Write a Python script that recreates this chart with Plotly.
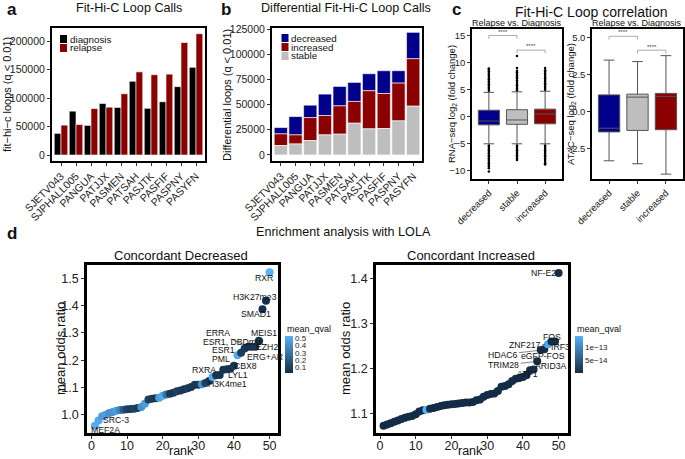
import plotly.graph_objects as go

W, H = 685, 459
FONT = "Liberation Sans, Arial, sans-serif"


def fx(x):
    return x / W


def fy(y):
    return 1 - y / H

# ---------------- data ----------------
samples = ["SJETV043", "SJPHALL005", "PANGUA", "PATJJX", "PASMEN",
           "PATSAH", "PASJTK", "PASFIF", "PASPNY", "PASYFN"]
diagnosis = [38000, 77000, 52000, 90500, 83500, 129500, 82000, 93500, 120000, 154000]
relapse = [52500, 53500, 81500, 84000, 107500, 146000, 141000, 142000, 197500, 213000]

stable = [9300, 10900, 14300, 19900, 20600, 31500, 25900, 26200, 33800, 48400]
increased = [11600, 9000, 22800, 19200, 28100, 21600, 37800, 34800, 37500, 47100]
decreased = [6300, 18200, 12300, 21300, 19300, 18900, 16900, 22600, 12300, 26200]

groups = ["decreased", "stable", "increased"]
group_colors = ["#00008B", "#BEBEBE", "#8B0000"]
# RNA-seq box stats
rna_q1 = [-1.5, -1.4, -1.3]
rna_med = [-0.8, -0.6, 0.5]
rna_q3 = [1.2, 1.3, 1.4]
rna_lo = [-5.0, -5.0, -5.0]
rna_hi = [4.5, 4.6, 4.7]
rna_out = [
    [4.8, 5.1, 5.4, 5.7, 6.0, 6.3, 6.6, 6.9, 7.2, 7.5, 7.8, 8.1, 8.4, 8.7, 8.9,
     -5.3, -5.6, -5.9, -6.2, -6.5, -6.8, -7.1, -7.4, -7.7, -8.0, -8.3, -8.6, -8.9, -9.2, -9.5, -10.1],
    [4.9, 5.2, 5.5, 5.8, 6.1, 6.4, 6.7, 7.0, 7.3, 7.6, 7.9, 8.2, 8.5, 9.0, 11.2,
     -5.3, -5.6, -5.9, -6.2, -6.5, -6.8, -7.1, -7.4, -7.7, -8.0],
    [5.0, 5.3, 5.6, 5.9, 6.2, 6.5, 6.8, 7.1, 7.4, 7.7, 8.0, 8.3, 8.6, 9.0,
     -5.3, -5.6, -5.9, -6.2, -6.5, -6.8, -7.1, -7.4, -7.7, -8.0, -8.3, -8.6, -8.8],
]
# ATAC-seq box stats
atac_q1 = [-1.35, -1.25, -1.2]
atac_med = [-1.1, 1.0, 1.05]
atac_q3 = [1.15, 1.2, 1.25]
atac_lo = [-3.3, -3.5, -4.2]
atac_hi = [3.5, 3.4, 3.8]

rank = list(range(1, 51))
dec_odds = [0.960, 0.979, 0.994, 1.000, 1.006, 1.010, 1.015, 1.017, 1.018, 1.020,
            1.021, 1.022, 1.025, 1.028, 1.040, 1.056, 1.059, 1.060, 1.062, 1.070,
            1.074, 1.077, 1.081, 1.086, 1.089, 1.093, 1.097, 1.102, 1.110, 1.110,
            1.112, 1.116, 1.124, 1.138, 1.145, 1.146, 1.165, 1.167, 1.169, 1.180,
            1.218, 1.227, 1.243, 1.249, 1.249, 1.249, 1.271, 1.387, 1.418, 1.522]
dec_qval = [0.50, 0.50, 0.45, 0.45, 0.40, 0.42, 0.45, 0.35, 0.20, 0.10,
            0.08, 0.10, 0.08, 0.40, 0.45, 0.10, 0.08, 0.06, 0.45, 0.50,
            0.30, 0.08, 0.06, 0.10, 0.07, 0.06, 0.08, 0.06, 0.07, 0.06,
            0.40, 0.10, 0.06, 0.50, 0.06, 0.05, 0.05, 0.06, 0.05, 0.06,
            0.50, 0.08, 0.06, 0.05, 0.05, 0.06, 0.04, 0.04, 0.04, 0.53]
inc_odds = [1.072, 1.075, 1.078, 1.081, 1.084, 1.087, 1.090, 1.092, 1.094, 1.098,
            1.104, 1.107, 1.108, 1.110, 1.112, 1.114, 1.116, 1.118, 1.119, 1.120,
            1.121, 1.122, 1.123, 1.124, 1.124, 1.125, 1.129, 1.131, 1.137, 1.141,
            1.143, 1.144, 1.150, 1.159, 1.161, 1.165, 1.172, 1.177, 1.179, 1.181,
            1.185, 1.196, 1.198, 1.216, 1.241, 1.243, 1.254, 1.260, 1.260, 1.413]
inc_qval = [2e-15] * 12 + [1.4e-13] + [2e-15] * 33 + [1.3e-13] + [3e-15] * 3

dec_labels = [  # label, rank, text x, text y, leader line
    ("RXR", 50, 48.3, 1.500, False), ("H3K27me3", 49, 46.0, 1.433, False),
    ("SMAD1", 48, 46.2, 1.371, False), ("MEIS1", 47, 48.3, 1.300, False),
    ("EZH2", 46, 49.3, 1.249, False), ("ERRA", 44, 35.6, 1.300, True),
    ("ESR1, DBDmut", 45, 40.0, 1.268, False), ("ESR1", 41, 37.2, 1.237, True),
    ("ERG+AR", 45, 48.6, 1.212, True), ("PML", 40, 36.4, 1.203, True),
    ("CBX8", 40, 43.3, 1.178, False), ("RXRA", 35, 31.6, 1.163, False),
    ("LYL1", 38, 41.0, 1.145, True), ("H3K4me1", 36, 38.2, 1.112, False),
    ("SRC-3", 2, 6.8, 0.979, True), ("MEF2A", 1, 4.0, 0.945, False),
]
inc_labels = [
    ("NF-E2", 50, 45.8, 1.414, False), ("FOS", 48, 48.2, 1.271, False),
    ("ZNF217", 47, 40.5, 1.252, True), ("IRF3", 49, 50.5, 1.247, False),
    ("HDAC6", 45, 34.3, 1.231, True), ("eGFP-FOS", 46, 45.6, 1.228, False),
    ("TRIM28", 44, 34.6, 1.207, True), ("ARID3A", 43, 47.9, 1.205, False),
    ("ATF1", 42, 41.3, 1.187, False),
]
# significance brackets: (from, to, level, drop, text level)
rna_brackets = [(0, 1, 15.0, 0.6, 15.7), (1, 2, 12.3, 0.6, 13.0)]
atac_brackets = [(0, 1, 5.11, 0.22, 5.38), (1, 2, 4.17, 0.23, 4.41)]

# ---------------- figure ----------------
fig = go.Figure()
idx = list(range(len(samples)))

# panel a
fig.add_trace(go.Bar(x=idx, y=diagnosis, width=0.45, offset=-0.45, name="diagnosis",
                     marker=dict(color="black", line=dict(color="white", width=0.6)),
                     xaxis="x", yaxis="y", showlegend=False))
fig.add_trace(go.Bar(x=idx, y=relapse, width=0.45, offset=0.0, name="relapse",
                     marker=dict(color="#8B0000", line=dict(color="white", width=0.6)),
                     xaxis="x", yaxis="y", showlegend=False))

# panel b (stacked through base)
base_inc = [s for s in stable]
base_dec = [s + i for s, i in zip(stable, increased)]
fig.add_trace(go.Bar(x=idx, y=decreased, base=base_dec, width=0.9, name="decreased",
                     marker=dict(color="#00008B", line=dict(color="white", width=0.6)),
                     xaxis="x2", yaxis="y2", showlegend=False))
fig.add_trace(go.Bar(x=idx, y=increased, base=base_inc, width=0.9, name="increased",
                     marker=dict(color="#8B0000", line=dict(color="white", width=0.6)),
                     xaxis="x2", yaxis="y2", showlegend=False))
fig.add_trace(go.Bar(x=idx, y=stable, base=[0] * len(stable), width=0.9, name="stable",
                     marker=dict(color="#BEBEBE", line=dict(color="white", width=0.6)),
                     xaxis="x2", yaxis="y2", showlegend=False))

# panel c
for i, g in enumerate(groups):
    fig.add_trace(go.Box(x=[i], q1=[rna_q1[i]], median=[rna_med[i]], q3=[rna_q3[i]],
                         lowerfence=[rna_lo[i]], upperfence=[rna_hi[i]], width=0.75,
                         fillcolor=group_colors[i], line=dict(color="#555555", width=1),
                         boxpoints=False, showlegend=False, xaxis="x3", yaxis="y3"))
    fig.add_trace(go.Scatter(x=[i] * len(rna_out[i]), y=rna_out[i], mode="markers",
                             marker=dict(color="black", size=2.5), showlegend=False,
                             xaxis="x3", yaxis="y3"))
    fig.add_trace(go.Box(x=[i], q1=[atac_q1[i]], median=[atac_med[i]], q3=[atac_q3[i]],
                         lowerfence=[atac_lo[i]], upperfence=[atac_hi[i]], width=0.75,
                         fillcolor=group_colors[i], line=dict(color="#555555", width=1),
                         boxpoints=False, showlegend=False, xaxis="x4", yaxis="y4"))

# panel d
CS = [[0, "#132B43"], [1, "#56B1F7"]]
cb_common = dict(xanchor="left", y=fy(354.8), yanchor="middle", len=37 / H, thickness=8,
                 outlinewidth=0, xpad=0, ypad=0, ticks="",
                 tickfont=dict(size=8, family=FONT, color="#222"))
fig.add_trace(go.Scatter(x=rank, y=dec_odds, mode="markers", showlegend=False,
                         marker=dict(size=8, color=dec_qval, colorscale=CS, cmin=0.017, cmax=0.525,
                                     colorbar=dict(cb_common, x=fx(284.5),
                                                   tickvals=[0.1, 0.2, 0.3, 0.4, 0.5])),
                         xaxis="x5", yaxis="y5"))
fig.add_trace(go.Scatter(x=rank, y=inc_odds, mode="markers", showlegend=False,
                         marker=dict(size=8, color=inc_qval, colorscale=CS, cmin=0, cmax=1.4e-13,
                                     colorbar=dict(cb_common, x=fx(575),
                                                   tickvals=[5e-14, 1e-13],
                                                   ticktext=["5e\u221214", "1e\u221213"])),
                         xaxis="x6", yaxis="y6"))

annotations = []
shapes = []
LABEL_FONT = dict(size=8.7, family=FONT, color="#111")


def add_labels(labels, odds, xr, yr):
    for lab, r, tx, ty, line in labels:
        py_ = odds[r - 1]
        if line:
            annotations.append(dict(x=r, y=py_, ax=tx, ay=ty, xref=xr, yref=yr, axref=xr, ayref=yr,
                                    text=lab, showarrow=True, arrowhead=0, arrowwidth=0.6,
                                    arrowcolor="#333", standoff=3, font=LABEL_FONT))
        else:
            annotations.append(dict(x=tx, y=ty, xref=xr, yref=yr, text=lab, showarrow=False,
                                    font=LABEL_FONT))


add_labels(dec_labels, dec_odds, "x5", "y5")
add_labels(inc_labels, inc_odds, "x6", "y6")


def add_brackets(brs, xr, yr):
    for a, b, lvl, drop, tl in brs:
        shapes.append(dict(type="path", xref=xr, yref=yr,
                           path=f"M {a},{lvl - drop} L {a},{lvl} L {b},{lvl} L {b},{lvl - drop}",
                           line=dict(color="#999", width=0.8)))
        annotations.append(dict(x=(a + b) / 2, y=tl, xref=xr, yref=yr, text="****", showarrow=False,
                                font=dict(size=6, family=FONT, color="#444")))


add_brackets(rna_brackets, "x3", "y3")
add_brackets(atac_brackets, "x4", "y4")


def txt(x, y, s, size, bold=False, angle=0, color="#111", xanchor="center", pad=1):
    annotations.append(dict(x=fx(x), y=fy(y), xref="paper", yref="paper", text=(f"<b>{s}</b>" if bold else s),
                            showarrow=False, textangle=angle, xanchor=xanchor, yanchor="middle",
                            borderpad=pad, font=dict(size=size, family=FONT, color=color)))


# manual legends (compact, like the reference)
def legend_box(x0, yc, color, label):
    shapes.append(dict(type="rect", xref="paper", yref="paper", x0=fx(x0), x1=fx(x0 + 7),
                       y0=fy(yc + 4), y1=fy(yc - 4), fillcolor=color, line=dict(width=0)))
    txt(x0 + 8.5, yc, label, 9.8, xanchor="left", pad=0)


legend_box(60, 39, "black", "diagnosis")
legend_box(60, 48, "#8B0000", "relapse")
legend_box(281.5, 38, "#00008B", "decreased")
legend_box(281.5, 47, "#8B0000", "increased")
legend_box(281.5, 56, "#BEBEBE", "stable")

txt(12, 10, "a", 17, True)
txt(226, 10, "b", 17, True)
txt(456, 10, "c", 17, True)
txt(12, 234, "d", 17, True)
txt(128.5, 8, "Fit-Hi-C Loop Calls", 12.6)
txt(345.5, 8, "Differential Fit-Hi-C Loop Calls", 12.6)
txt(591, 12, "Fit-Hi-C Loop correlation", 14)
txt(343, 232, "Enrichment analysis with LOLA", 12.6)
txt(181, 255, "Concordant Decreased", 13)
txt(471, 255, "Concordant Increased", 13)
txt(517, 23, "Relapse vs. Diagnosis", 9)
txt(637, 23, "Relapse vs. Diagnosis", 9)
txt(7, 95, "fit\u2212hi\u2212c loops (q < 0.01)", 11, angle=-90)
txt(227, 95, "Differential loops (q < 0.01)", 11, angle=-90)
txt(452, 104, "RNA\u2212seq log<sub>2</sub> (fold change)", 9.5, angle=-90)
txt(571, 104, "ATAC\u2212seq log<sub>2</sub> (fold change)", 9.5, angle=-90)
txt(60, 349, "mean odds ratio", 13, angle=-90)
txt(345, 349, "mean odds ratio", 13, angle=-90)
txt(181, 451, "rank", 12.5, pad=0)
txt(470, 451, "rank", 12.5, pad=0)
txt(284.5, 329, "mean_qval", 9, xanchor="left")
txt(575, 329, "mean_qval", 9, xanchor="left")

axis_common = dict(showline=True, mirror=True, linecolor="black", showgrid=False, zeroline=False,
                   ticks="outside", ticklen=3, tickcolor="#333", tickwidth=1, automargin=False)
tf_small = dict(size=10.5, family=FONT, color="#222")
tf_c = dict(size=9.5, family=FONT, color="#222")
tf_d = dict(size=12.5, family=FONT, color="#222")

fig.update_layout(
    width=W, height=H, autosize=False, margin=dict(l=0, r=0, t=0, b=0, autoexpand=False),
    paper_bgcolor="white", plot_bgcolor="white", barmode="overlay", showlegend=False,
    font=dict(family=FONT),
    xaxis=dict(axis_common, domain=[fx(52), fx(205)], anchor="y", range=[-0.6, 9.6], linewidth=2,
               tickvals=idx, ticktext=samples, tickangle=-45, tickfont=tf_small),
    yaxis=dict(axis_common, domain=[fy(161), fy(28)], anchor="x", range=[-10500, 223000], linewidth=2,
               tickvals=[0, 50000, 100000, 150000, 200000], tickformat="d", tickfont=tf_small),
    xaxis2=dict(axis_common, domain=[fx(272), fx(422)], anchor="y2", range=[-0.6, 9.6], linewidth=2,
                tickvals=idx, ticktext=samples, tickangle=-45, tickfont=tf_small),
    yaxis2=dict(axis_common, domain=[fy(161), fy(28)], anchor="x2", range=[-6000, 126000], linewidth=2,
                tickvals=[0, 25000, 50000, 75000, 100000, 125000], tickformat="d", tickfont=tf_small),
    xaxis3=dict(axis_common, domain=[fx(472), fx(562)], anchor="y3", range=[-0.6, 2.6], linewidth=1.5,
                tickvals=[0, 1, 2], ticktext=groups, tickangle=-45, tickfont=tf_c),
    yaxis3=dict(axis_common, domain=[fy(179), fy(29)], anchor="x3", range=[-11.5, 16.2], linewidth=1.5,
                tickvals=[-10, -5, 0, 5, 10, 15], tickfont=tf_c),
    xaxis4=dict(axis_common, domain=[fx(592), fx(683)], anchor="y4", range=[-0.6, 2.6], linewidth=1.5,
                tickvals=[0, 1, 2], ticktext=groups, tickangle=-45, tickfont=tf_c),
    yaxis4=dict(axis_common, domain=[fy(179), fy(29)], anchor="x4", range=[-4.53, 5.6], linewidth=1.5,
                tickvals=[-2.5, 0, 2.5, 5.0], tickformat=".1f", tickfont=tf_c),
    xaxis5=dict(axis_common, domain=[fx(87), fx(278)], anchor="y5", range=[-1.24, 52.36], linewidth=2.5,
                tickvals=[0, 10, 20, 30, 40, 50], tickfont=tf_d, ticklabelstandoff=-4),
    yaxis5=dict(axis_common, domain=[fy(433), fy(265)], anchor="x5", range=[0.933, 1.549], linewidth=2.5,
                tickvals=[1.0, 1.1, 1.2, 1.3, 1.4, 1.5], tickformat=".1f", tickfont=tf_d),
    xaxis6=dict(axis_common, domain=[fx(376), fx(568)], anchor="y6", range=[-1.12, 52.63], linewidth=2.5,
                tickvals=[0, 10, 20, 30, 40, 50], tickfont=tf_d, ticklabelstandoff=-4),
    yaxis6=dict(axis_common, domain=[fy(433), fy(265)], anchor="x6", range=[1.056, 1.431], linewidth=2.5,
                tickvals=[1.1, 1.2, 1.3, 1.4], tickformat=".1f", tickfont=tf_d),
    annotations=annotations, shapes=shapes,
)

fig.write_html("out.html", config={"displayModeBar": False},
               post_script="document.body.style.margin='0px';document.body.style.overflow='hidden';")
